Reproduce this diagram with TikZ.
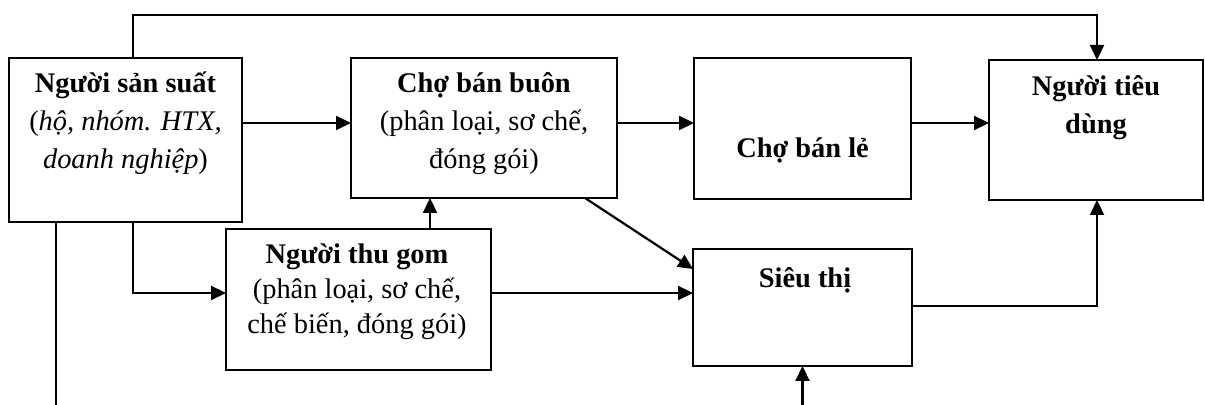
\documentclass[tikz,border=0pt]{standalone}
\usepackage{fontspec}
\setmainfont{Liberation Serif}
\usetikzlibrary{arrows.meta}

\begin{document}
\begin{tikzpicture}[x=0.5pt,y=-0.5pt,
  stage/.style={draw, line width=0.9pt, rectangle, outer sep=0pt, inner sep=0pt},
  caption/.style={align=center, inner sep=0pt, font=\fontsize{14.2}{19}\selectfont},
  flow/.style={line width=1.1pt, -{Triangle[length=7.5pt,width=7pt]}},
  plain/.style={line width=1.1pt}]

\useasboundingbox (0,0) rectangle (1205,405);

% boxes
\node[stage, minimum width=116.5pt, minimum height=82pt]   (prod) at (125.5,140) {};
\node[stage, minimum width=133pt,   minimum height=70pt]   (buon) at (484,128) {};
\node[stage, minimum width=108.5pt, minimum height=70.5pt] (le)   at (802.5,128.5) {};
\node[stage, minimum width=107pt,   minimum height=70pt]   (cons) at (1096,130) {};
\node[stage, minimum width=132.5pt, minimum height=70.5pt] (gom)  at (358.5,299.5) {};
\node[stage, minimum width=109.5pt, minimum height=58.5pt] (sieu) at (802.5,307.5) {};

% texts
\node[caption] (prodtxt) at (125.5,123) {\textbf{Người sản suất}\\(\textit{hộ, nhóm. HTX,}\\\textit{doanh nghiệp})};
\node[caption] (buontxt) at (484,124) {\textbf{Chợ bán buôn}\\(phân loại, sơ chế,\\đóng gói)};
\node[caption] (letxt) at (802.5,150) {\textbf{Chợ bán lẻ}};
\node[caption] (constxt) at (1096,108) {\textbf{Người tiêu}\\\textbf{dùng}};
\node[caption, font=\fontsize{14.2}{17.5}\selectfont] (gomtxt) at (357,292) {\textbf{Người thu gom}\\(phân loại, sơ chế,\\chế biến, đóng gói)};
\node[caption] (sieutxt) at (805,280) {\textbf{Siêu thị}};

% routing helpers
\coordinate (t1) at (133,15);
\coordinate (t2) at (1097,15);
\coordinate (ymain) at (0,123);
\coordinate (ygom) at (0,293);
\coordinate (ydiag) at (0,269);
\coordinate (ysieu) at (0,306);
\coordinate (xleft) at (56,0);
\coordinate (xup) at (430,0);
\coordinate (xdiag) at (585,0);
\coordinate (bot1) at (56,405);
\coordinate (bot2) at (802.5,405);

% connectors
\draw[flow] (t1 |- prod.north) -- (t1) -- (t2) -- (t2 |- cons.north);
\draw[flow] (prod.east |- ymain) -- (buon.west |- ymain);
\draw[flow] (buon.east |- ymain) -- (le.west |- ymain);
\draw[flow] (le.east |- ymain) -- (cons.west |- ymain);
\draw[flow] (t1 |- prod.south) -- (t1 |- ygom) -- (gom.west |- ygom);
\draw[plain] (xleft |- prod.south) -- (bot1);
\draw[flow] (xup |- gom.north) -- (xup |- buon.south);
\draw[flow] (xdiag |- buon.south) -- (sieu.west |- ydiag);
\draw[flow] (gom.east |- ygom) -- (sieu.west |- ygom);
\draw[flow] (sieu.east |- ysieu) -- (t2 |- ysieu) -- (t2 |- cons.south);
\draw[flow] (bot2) -- (sieu.south);

\end{tikzpicture}
\end{document}
